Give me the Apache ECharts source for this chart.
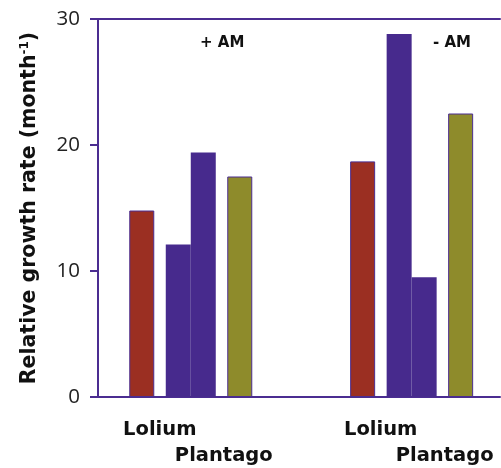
<!DOCTYPE html>
<html>
<head>
<meta charset="utf-8">
<script src="https://cdn.jsdelivr.net/npm/echarts@6/dist/echarts.min.js"></script>
<style>
html,body{margin:0;padding:0;background:#fff;}
#chart{width:501px;height:468px;}
</style>
</head>
<body>
<div id="chart"></div>
<script>
// Data
const groups = ['+ AM', '- AM'];
const species = ['Lolium', 'Plantago'];
const loliumMono = [14.8, 18.7];      // red
const loliumMix = [12.1, 28.8];       // blue (left)
const plantagoMix = [19.4, 9.5];      // blue (right)
const plantagoMono = [17.5, 22.5];    // olive
const yTicks = [0, 10, 20, 30];

const AXIS = '#4b2d91';
const FONT = 'DejaVu Sans';

function toData(arr) { return arr.map((v, i) => [i + 1, v]); }

const chart = echarts.init(document.getElementById('chart'), null, {renderer: 'canvas'});
const xCommon = {
  type: 'value', min: 0.58, max: 2.4,
  axisLabel: {show: false}, axisTick: {show: false}, splitLine: {show: false}
};
const catLabel = {fontFamily: FONT, fontWeight: 'bold', fontSize: 19.5, color: '#111', align: 'center', verticalAlign: 'middle'};
chart.setOption({
  animation: false,
  backgroundColor: '#fff',
  grid: {left: 98, right: 1, top: 19, bottom: 71},
  xAxis: [
    Object.assign({}, xCommon, {position: 'bottom', axisLine: {show: true, onZero: false, lineStyle: {color: AXIS, width: 2}}}),
    Object.assign({}, xCommon, {position: 'top', axisLine: {show: true, onZero: false, lineStyle: {color: AXIS, width: 2}}})
  ],
  yAxis: {
    type: 'value', min: yTicks[0], max: yTicks[yTicks.length - 1], interval: 10,
    name: '{t|Relative growth rate (month}{s|-1}{t|)}',
    nameLocation: 'middle', nameGap: 58,
    nameTextStyle: {
      rich: {
        t: {fontFamily: FONT, fontWeight: 'bold', fontSize: 20.5, color: '#111'},
        s: {fontFamily: FONT, fontWeight: 'bold', fontSize: 12, color: '#111', verticalAlign: 'top', padding: [0, 0, 9, 0]}
      }
    },
    axisLine: {show: true, lineStyle: {color: AXIS, width: 2}},
    axisTick: {show: true, length: 8, lineStyle: {color: AXIS, width: 2}},
    axisLabel: {fontFamily: 'Open Sans', fontSize: 20.5, color: '#222', margin: 18},
    splitLine: {show: false}
  },
  series: [
    {
      type: 'bar', xAxisIndex: 0, name: 'Lolium mono', data: toData(loliumMono),
      barWidth: 25, barGap: '292%',
      itemStyle: {color: '#9b2f22', borderColor: AXIS, borderWidth: 1},
      label: Object.assign({show: true, formatter: species[0], position: ['50%', '100%'], offset: [18, 33]}, catLabel)
    },
    {
      type: 'bar', xAxisIndex: 0, name: 'Plantago mono', data: toData(plantagoMono),
      barWidth: 25, barGap: '292%',
      itemStyle: {color: '#8e8b2b', borderColor: AXIS, borderWidth: 1},
      label: Object.assign({show: true, formatter: species[1], position: ['50%', '100%'], offset: [-16, 59]}, catLabel)
    },
    {
      type: 'bar', xAxisIndex: 1, name: 'Lolium mix', data: toData(loliumMix),
      barWidth: 25, barGap: 0,
      itemStyle: {color: '#472a8d'}
    },
    {
      type: 'bar', xAxisIndex: 1, name: 'Plantago mix', data: toData(plantagoMix),
      barWidth: 25, barGap: 0,
      itemStyle: {color: '#472a8d'}
    }
  ],
  graphic: [
    {type: 'text', left: 200, top: 36, style: {text: groups[0], font: 'bold 15px "DejaVu Sans"', fill: '#111'}},
    {type: 'text', left: 433, top: 36, style: {text: groups[1], font: 'bold 15px "DejaVu Sans"', fill: '#111'}}
  ]
});
</script>
</body>
</html>
